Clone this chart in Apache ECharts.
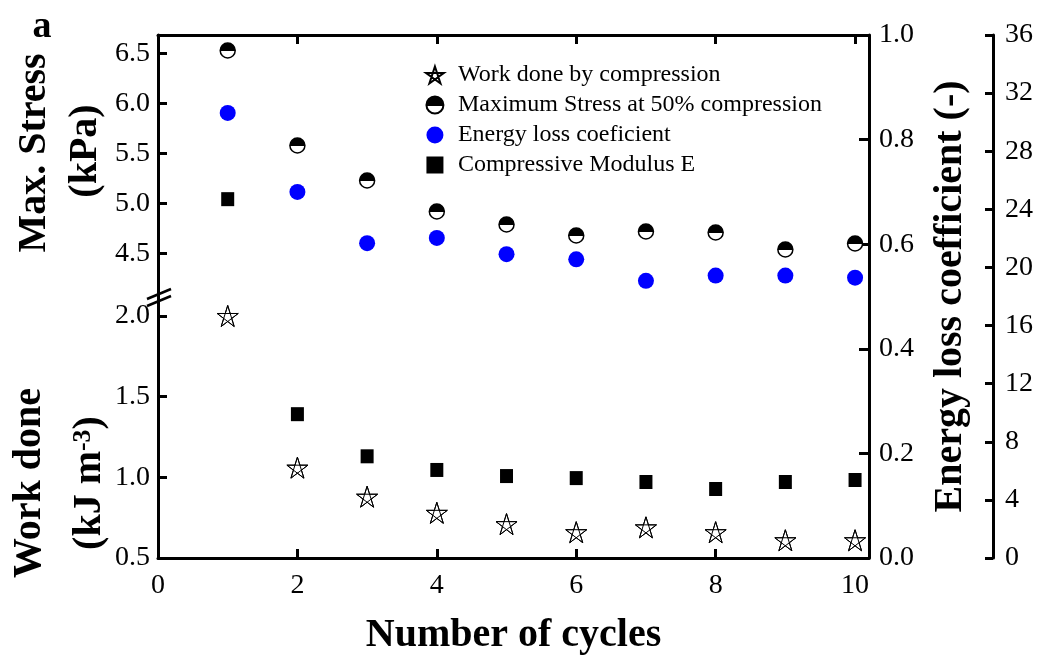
<!DOCTYPE html>
<html>
<head>
<meta charset="utf-8">
<script src="https://cdn.jsdelivr.net/npm/echarts@6/dist/echarts.min.js"></script>
<style>
html,body{margin:0;padding:0;background:#fff;}
#chart{width:1044px;height:657px;}
</style>
</head>
<body>
<div id="chart"></div>
<script>
// ---- data ----
const cycles = [1, 2, 3, 4, 5, 6, 7, 8, 9, 10];
const workDone = [2.00, 1.06, 0.88, 0.78, 0.71, 0.66, 0.69, 0.66, 0.61, 0.61];
const maxStress = [6.53, 5.58, 5.23, 4.92, 4.79, 4.68, 4.72, 4.71, 4.54, 4.60];
const energyLoss = [0.851, 0.700, 0.602, 0.612, 0.581, 0.571, 0.530, 0.540, 0.540, 0.536];
const modulus = [24.7, 9.9, 7.0, 6.06, 5.64, 5.5, 5.23, 4.75, 5.23, 5.37];
const xTicks = [0, 2, 4, 6, 8, 10];
const stressTicks = [4.5, 5.0, 5.5, 6.0, 6.5];
const workTicks = [0.5, 1.0, 1.5, 2.0];
const seriesNames = ['Work done by compression', 'Maximum Stress at 50% compression', 'Energy loss coeficient', 'Compressive Modulus E'];

// ---- layout ----
const L = 158, R = 869, T = 35, B = 558, BRK = 295, W = 1044, H = 657;
const serif = '"Liberation Serif", "Times New Roman", serif';
const axisLineStyle = {color: '#000', width: 3};
const axisLine = {show: true, onZero: false, lineStyle: axisLineStyle};

const starPath = 'path://M50,0 L61.23,34.55 L97.55,34.55 L68.16,55.9 L79.39,90.45 L50,69.1 L20.61,90.45 L31.84,55.9 L2.45,34.55 L38.77,34.55 Z M50,0 L79.39,90.45 L2.45,34.55 L97.55,34.55 L20.61,90.45 Z';
const squarePath = 'path://M0,0 L10,0 L10,10 L0,10 Z';
const halfGrad = {type: 'linear', x: 0, y: 0, x2: 0, y2: 1, colorStops: [
  {offset: 0, color: '#000'}, {offset: 0.55, color: '#000'},
  {offset: 0.55, color: '#fff'}, {offset: 1, color: '#fff'}]};

const pairs = (ys) => cycles.map((c, i) => [c, ys[i]]);
const tickLabel = {fontFamily: serif, fontSize: 28, color: '#000'};

const chart = echarts.init(document.getElementById('chart'), null, {renderer: 'canvas'});
const option = {
  animation: false,
  backgroundColor: '#fff',
  grid: [
    {left: L, right: W - R, top: T, bottom: H - BRK},
    {left: L, right: W - R, top: BRK, bottom: H - B},
    {left: L, right: W - R, top: T, bottom: H - B}
  ],
  xAxis: [
    {gridIndex: 0, type: 'value', position: 'top', min: 0, max: 10.2, interval: 2,
     axisLine: axisLine,
     axisTick: {show: true, inside: true, length: 9, lineStyle: axisLineStyle, customValues: [2, 4, 6, 8, 10]},
     axisLabel: {show: false}, splitLine: {show: false}},
    {gridIndex: 1, type: 'value', position: 'bottom', min: 0, max: 10.2, interval: 2,
     name: 'Number of cycles', nameLocation: 'middle', nameGap: 58,
     nameTextStyle: {fontFamily: serif, fontWeight: 'bold', fontSize: 40, color: '#000'},
     axisLine: axisLine,
     axisTick: {show: true, inside: true, length: 9, lineStyle: axisLineStyle, customValues: [2, 4, 6, 8]},
     axisLabel: Object.assign({customValues: xTicks, margin: 14}, tickLabel),
     splitLine: {show: false}},
    {gridIndex: 2, type: 'value', min: 0, max: 10.2, show: false,
     axisLine: {show: false, onZero: false}}
  ],
  yAxis: [
    {gridIndex: 0, type: 'value', position: 'left', min: 4.085, max: 6.685, splitNumber: 5,
     axisLine: axisLine,
     axisTick: {show: true, inside: true, length: 9, lineStyle: axisLineStyle, customValues: stressTicks},
     axisLabel: Object.assign({customValues: stressTicks, margin: 8, formatter: v => v.toFixed(1)}, tickLabel),
     splitLine: {show: false}},
    {gridIndex: 1, type: 'value', position: 'left', min: 0.5, max: 2.13, interval: 0.5,
     axisLine: axisLine,
     axisTick: {show: true, inside: true, length: 9, lineStyle: axisLineStyle, customValues: [1.0, 1.5, 2.0]},
     axisLabel: Object.assign({customValues: workTicks, margin: 8, formatter: v => v.toFixed(1)}, tickLabel),
     splitLine: {show: false}},
    {gridIndex: 2, type: 'value', position: 'right', min: 0, max: 1, interval: 0.2,
     name: 'Energy loss coefficient (-)', nameLocation: 'middle', nameRotate: 90, nameGap: 62,
     nameTextStyle: {fontFamily: serif, fontWeight: 'bold', fontSize: 40, color: '#000'},
     axisLine: axisLine,
     axisTick: {show: true, inside: true, length: 10, lineStyle: axisLineStyle},
     axisLabel: Object.assign({margin: 10, formatter: v => v.toFixed(1)}, tickLabel),
     splitLine: {show: false}},
    {gridIndex: 2, type: 'value', position: 'right', offset: 124, min: 0, max: 36, interval: 4,
     axisLine: axisLine,
     axisTick: {show: true, inside: true, length: 8, lineStyle: axisLineStyle},
     axisLabel: Object.assign({margin: 12}, tickLabel),
     splitLine: {show: false}}
  ],
  legend: {
    orient: 'vertical', left: 420, top: 58, itemWidth: 36, itemHeight: 17, itemGap: 6,
    textStyle: {fontFamily: serif, fontSize: 24, color: '#000'},
    data: [
      {name: seriesNames[0]},
      {name: seriesNames[1]},
      {name: seriesNames[2]},
      {name: seriesNames[3], icon: squarePath, itemStyle: {color: '#000'}}
    ]
  },
  series: [
    {name: seriesNames[0], type: 'scatter', xAxisIndex: 1, yAxisIndex: 1, data: pairs(workDone),
     symbol: starPath, symbolSize: 21,
     itemStyle: {color: '#fff', borderColor: '#000', borderWidth: 1, opacity: 1}},
    {name: seriesNames[1], type: 'scatter', xAxisIndex: 0, yAxisIndex: 0, data: pairs(maxStress),
     symbol: 'circle', symbolSize: 15,
     itemStyle: {color: halfGrad, borderColor: '#000', borderWidth: 1.5, opacity: 1}},
    {name: seriesNames[2], type: 'scatter', xAxisIndex: 2, yAxisIndex: 2, data: pairs(energyLoss),
     symbol: 'circle', symbolSize: 16,
     itemStyle: {color: '#0000ff', opacity: 1}},
    {name: seriesNames[3], type: 'scatter', xAxisIndex: 2, yAxisIndex: 3, data: pairs(modulus),
     symbol: 'rect', symbolSize: [13, 14],
     itemStyle: {color: '#000', opacity: 1}}
  ],
  graphic: [
    {type: 'text', x: 42, y: 27, style: {text: 'a', fontFamily: serif, fontWeight: 'bold', fontSize: 38, fill: '#000', align: 'center', verticalAlign: 'middle'}},
    {type: 'text', x: 35, y: 153, rotation: Math.PI / 2, style: {text: 'Max. Stress', fontFamily: serif, fontWeight: 'bold', fontSize: 40, fill: '#000', align: 'center', verticalAlign: 'middle'}},
    {type: 'text', x: 86, y: 151, rotation: Math.PI / 2, style: {text: '(kPa)', fontFamily: serif, fontWeight: 'bold', fontSize: 40, fill: '#000', align: 'center', verticalAlign: 'middle'}},
    {type: 'text', x: 30, y: 483, rotation: Math.PI / 2, style: {text: 'Work done', fontFamily: serif, fontWeight: 'bold', fontSize: 40, fill: '#000', align: 'center', verticalAlign: 'middle'}},
    {type: 'text', x: 90, y: 483, rotation: Math.PI / 2, style: {text: '(kJ m{sup|-3})', fontFamily: serif, fontWeight: 'bold', fontSize: 40, fill: '#000', align: 'center', verticalAlign: 'middle',
      rich: {sup: {fontFamily: serif, fontWeight: 'bold', fontSize: 26, verticalAlign: 'top', fill: '#000'}}}},
    {type: 'line', shape: {x1: 147, y1: BRK + 4, x2: 171, y2: BRK - 6}, style: {stroke: '#000', lineWidth: 2.5}},
    {type: 'line', shape: {x1: 147, y1: BRK + 11, x2: 171, y2: BRK + 1}, style: {stroke: '#000', lineWidth: 2.5}}
  ]
};
chart.setOption(option);
</script>
</body>
</html>
